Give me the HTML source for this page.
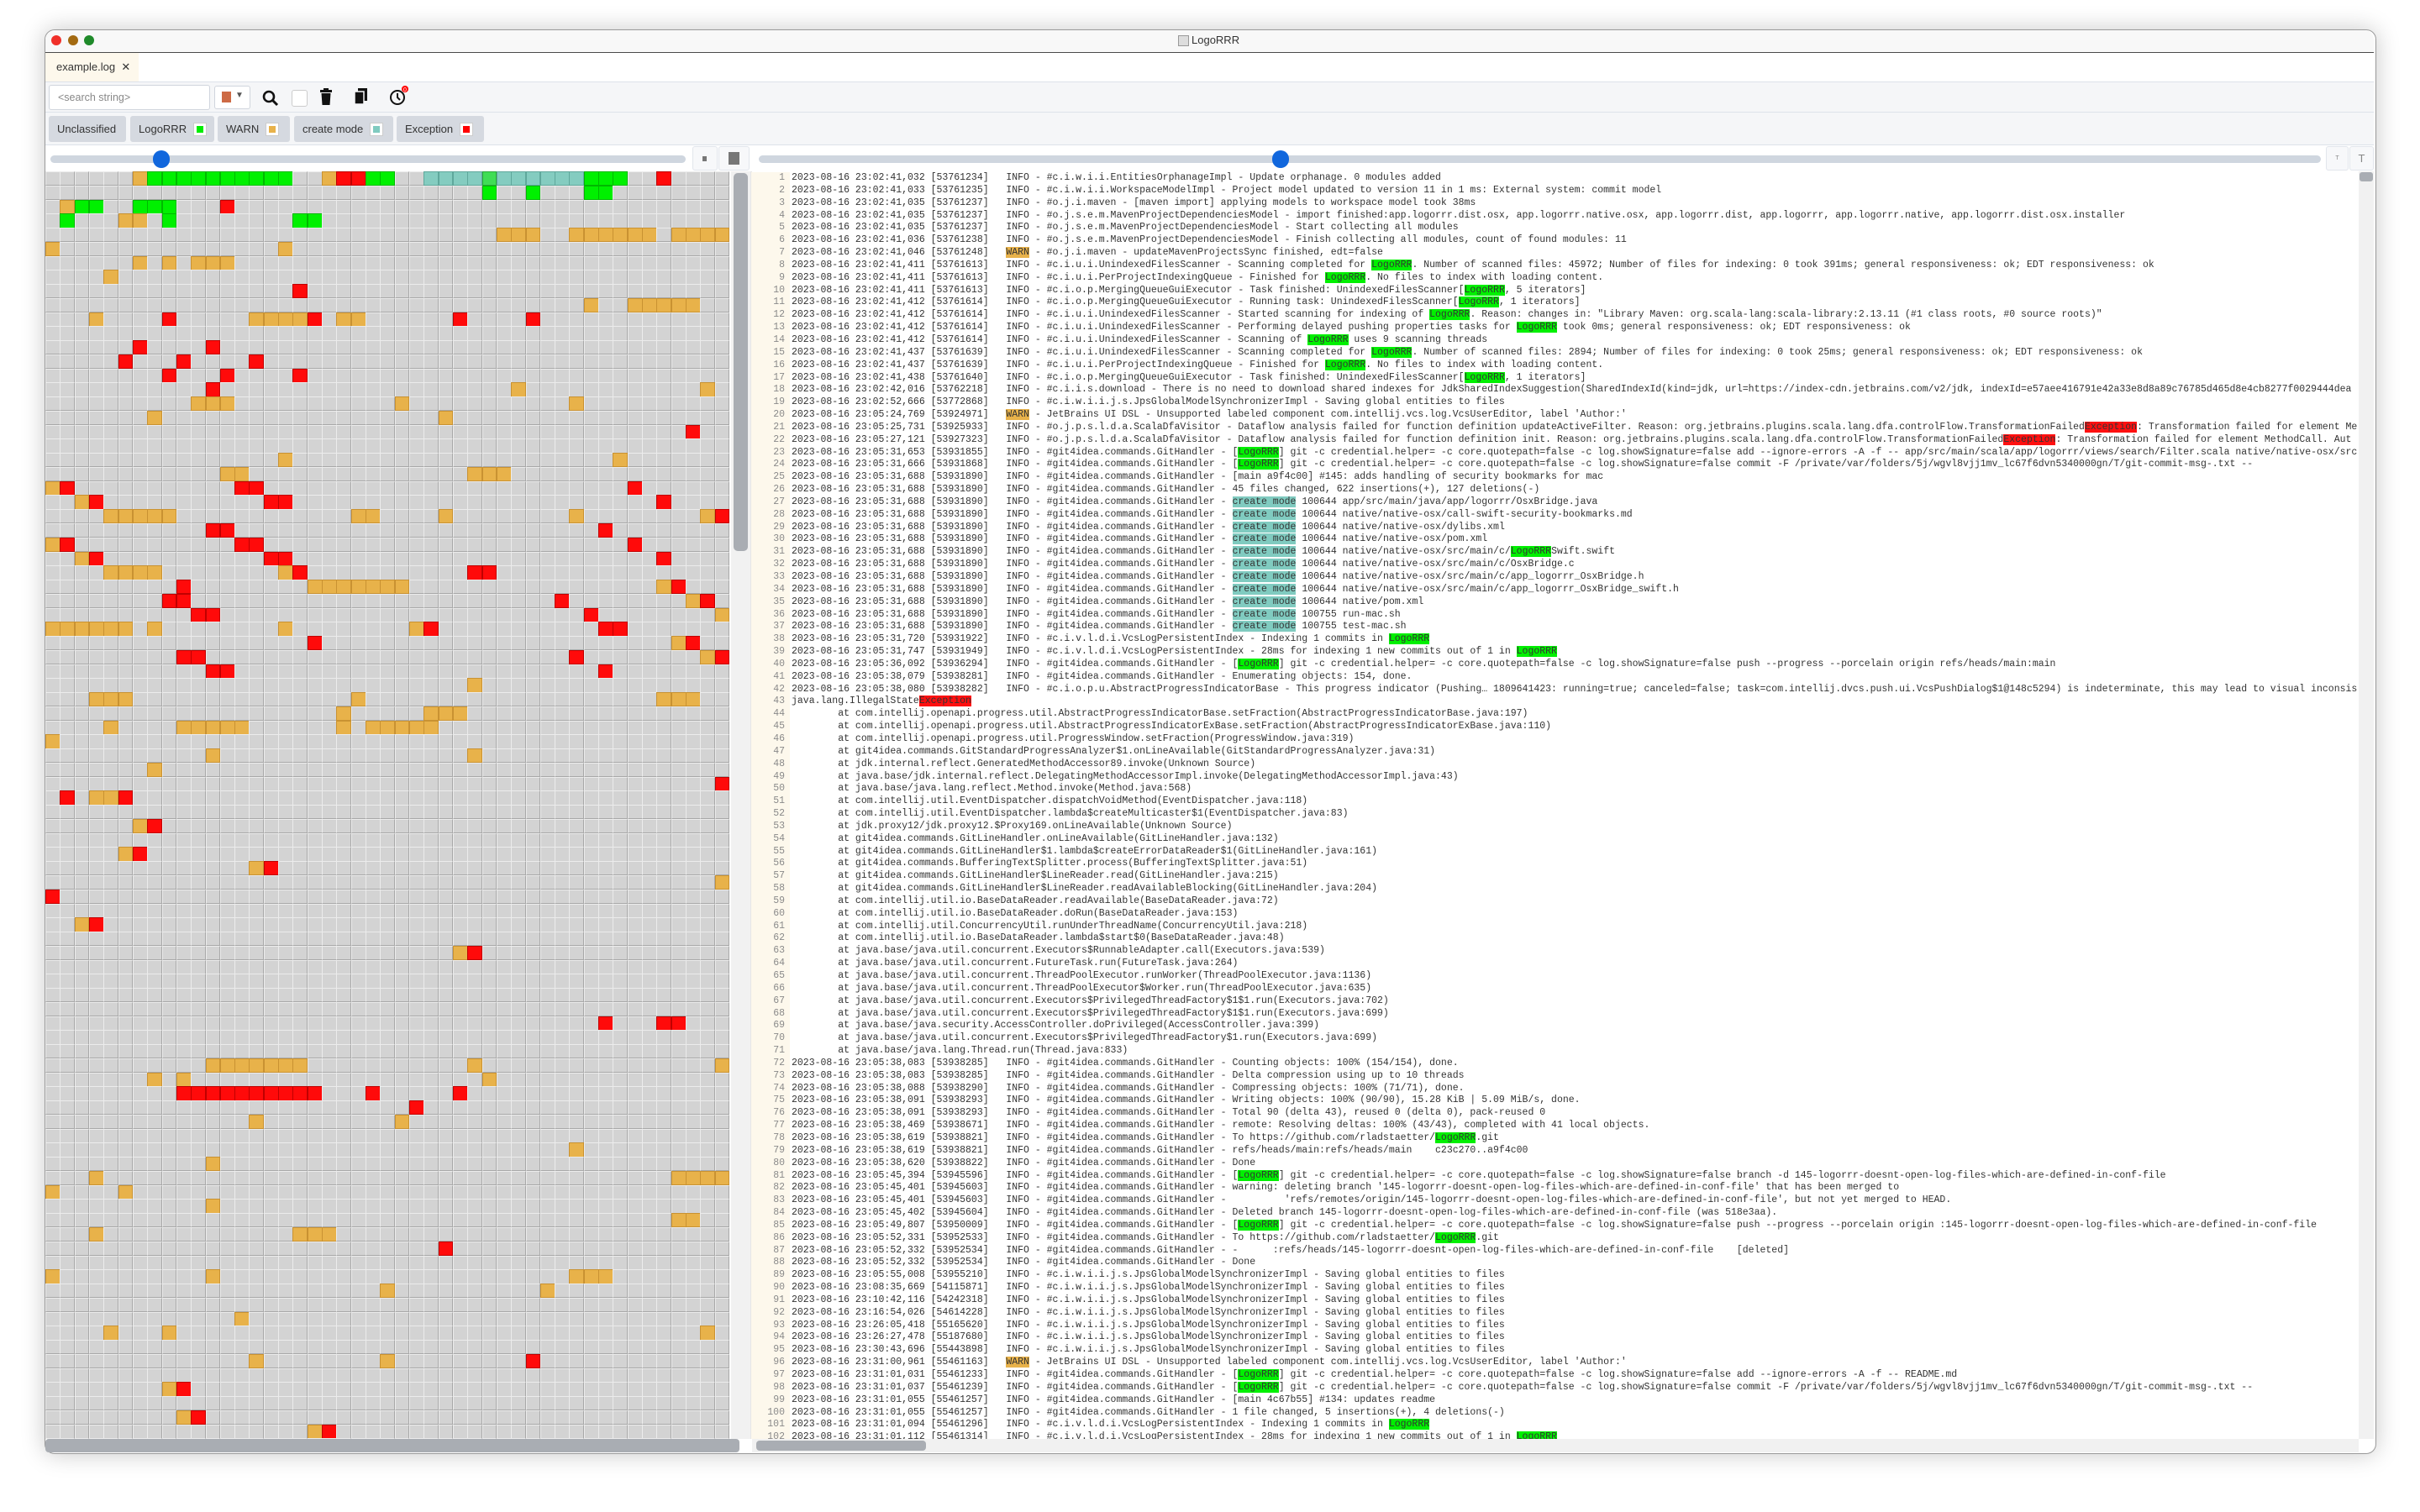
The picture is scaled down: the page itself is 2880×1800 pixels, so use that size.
<!DOCTYPE html>
<html><head><meta charset="utf-8">
<style>
html,body{margin:0;padding:0;width:2880px;height:1800px;background:#fff;overflow:hidden;font-family:"Liberation Sans",sans-serif;}
.a{position:absolute;}
#win{left:53px;top:35px;width:2773px;height:1694px;border-radius:12px;background:#fff;box-shadow:0 0 28px rgba(0,0,0,.22);border:1px solid #9a9a9a;overflow:hidden;}
.btn{position:absolute;top:138px;height:31px;background:#d5d9e0;border-radius:3px;font-size:13px;color:#333;line-height:31px;padding-left:10px;box-sizing:border-box;}
.sq{display:inline-block;width:14px;height:14px;background:#fff;border:1px solid #ccc;vertical-align:middle;margin-left:8px;position:relative;top:-1px;}
.sq i{position:absolute;left:3px;top:3px;width:8px;height:8px;}
#grid{left:54px;top:204px;width:814px;height:1509px;overflow:hidden;}
#grid div{position:absolute;box-sizing:border-box;border-top:1px solid #ececec;border-left:1px solid #ececec;border-right:1px solid #a8a8a8;border-bottom:1px solid #a8a8a8;background:#d3d3d3;}
pre{margin:0;font-family:"Liberation Mono",monospace;font-size:11.5px;line-height:14.85px;}
#txt{left:942px;top:205px;width:1864px;height:1508px;overflow:hidden;color:#333;white-space:pre;}
#ln{left:894px;top:205px;width:40px;height:1508px;overflow:hidden;color:#8a8a8a;text-align:right;padding-right:6px;background:#fdf8ec;}
.g{background:#00f000;}.w{background:#e8b24a;}.c{background:#80cbc0;}.r{background:#ff1010;}
</style></head><body>
<div id="win" class="a"></div>
<!-- title bar -->
<div class="a" style="left:54px;top:36px;width:2771px;height:26px;background:#f8f8f8;border-bottom:1px solid #4a4a4a;border-radius:11px 11px 0 0;"></div>
<div class="a" style="left:61px;top:42px;width:12px;height:12px;border-radius:6px;background:#f0302a;"></div>
<div class="a" style="left:81px;top:42px;width:12px;height:12px;border-radius:6px;background:#a36a12;"></div>
<div class="a" style="left:100px;top:42px;width:12px;height:12px;border-radius:6px;background:#1f8a2a;"></div>
<div class="a" style="left:1402px;top:42px;width:11px;height:11px;background:#ddd;border:1px solid #999;"></div>
<div class="a" style="left:1418px;top:40px;font-size:13px;color:#333;">LogoRRR</div>
<!-- tab bar -->
<div class="a" style="left:54px;top:63px;width:2771px;height:34px;background:#fff;border-bottom:1px solid #dde2ea;"></div>
<div class="a" style="left:54px;top:63px;width:111px;height:34px;background:#fdf8ec;"></div>
<div class="a" style="left:67px;top:72px;font-size:13px;color:#333;">example.log&nbsp;&nbsp;✕</div>
<!-- toolbar -->
<div class="a" style="left:54px;top:98px;width:2771px;height:74px;background:#f5f6f8;border-bottom:1px solid #dde2ea;"></div>
<div class="a" style="left:54px;top:133px;width:2771px;height:1px;background:#dde2ea;"></div>
<div class="a" style="left:58px;top:101px;width:192px;height:30px;background:#fff;border:1px solid #d0d5dd;border-radius:3px;box-sizing:border-box;font-size:12.5px;color:#888;line-height:28px;padding-left:10px;">&lt;search string&gt;</div>
<div class="a" style="left:255px;top:102px;width:43px;height:28px;background:#fff;border:1px solid #d0d5dd;border-radius:3px;box-sizing:border-box;"></div>
<div class="a" style="left:264px;top:109px;width:11px;height:13px;background:#cd6a45;"></div>
<div class="a" style="left:280px;top:108px;font-size:10px;color:#555;">▼</div>
<svg class="a" style="left:311px;top:106px" width="22" height="22"><circle cx="9" cy="9" r="6" fill="none" stroke="#111" stroke-width="2.6"/><line x1="13" y1="13" x2="19" y2="19" stroke="#111" stroke-width="3"/></svg>
<div class="a" style="left:347px;top:107px;width:17px;height:18px;background:#fff;border:1px solid #ccc;border-radius:3px;"></div>
<svg class="a" style="left:380px;top:105px" width="16" height="22"><rect x="1" y="2" width="14" height="3" fill="#111"/><rect x="5" y="0" width="6" height="3" fill="#111"/><path d="M2.5 6 H13.5 L12.5 20 H3.5 Z" fill="#111"/></svg>
<svg class="a" style="left:421px;top:104px" width="18" height="22"><rect x="5" y="1" width="11" height="15" fill="#111"/><rect x="1" y="5" width="11" height="15" fill="#111" stroke="#f5f6f8" stroke-width="1.5"/></svg>
<svg class="a" style="left:462px;top:101px" width="26" height="28"><circle cx="11" cy="15" r="8" fill="none" stroke="#111" stroke-width="2"/><path d="M11 10 V15 L14 18" stroke="#111" stroke-width="2" fill="none"/><circle cx="20" cy="5" r="4" fill="#f00"/><text x="18" y="8" font-size="7" fill="#fff" font-family="Liberation Sans">0</text></svg>
<!-- filters -->
<div class="btn" style="left:58px;width:92px;">Unclassified</div>
<div class="btn" style="left:155px;width:100px;">LogoRRR<span class="sq"><i style="background:#00ee00"></i></span></div>
<div class="btn" style="left:259px;width:86px;">WARN<span class="sq"><i style="background:#e8b24a"></i></span></div>
<div class="btn" style="left:350px;width:118px;">create mode<span class="sq"><i style="background:#80cbc0"></i></span></div>
<div class="btn" style="left:472px;width:104px;">Exception<span class="sq"><i style="background:#f00"></i></span></div>
<!-- slider rows -->
<div class="a" style="left:60px;top:185px;width:756px;height:9px;border-radius:5px;background:#cfd6df;"></div>
<div class="a" style="left:182px;top:179px;width:20px;height:21px;border-radius:10px;background:#1167dd;"></div>
<div class="a" style="left:824px;top:174px;width:30px;height:29px;border:1px solid #e2e6ec;border-radius:3px;box-sizing:border-box;background:#f7f8fa;"></div>
<div class="a" style="left:836px;top:186px;width:5px;height:6px;background:#777;"></div>
<div class="a" style="left:855px;top:174px;width:37px;height:29px;border:1px solid #e2e6ec;border-radius:3px;box-sizing:border-box;background:#f7f8fa;"></div>
<div class="a" style="left:867px;top:181px;width:13px;height:15px;background:#777;"></div>
<div class="a" style="left:903px;top:185px;width:1859px;height:9px;border-radius:5px;background:#cfd6df;"></div>
<div class="a" style="left:1514px;top:179px;width:20px;height:21px;border-radius:10px;background:#1167dd;"></div>
<div class="a" style="left:2768px;top:174px;width:27px;height:29px;border:1px solid #e2e6ec;border-radius:3px;box-sizing:border-box;background:#f7f8fa;font-size:7px;color:#888;text-align:center;line-height:27px;">T</div>
<div class="a" style="left:2796px;top:174px;width:29px;height:29px;border:1px solid #e2e6ec;border-radius:3px;box-sizing:border-box;background:#f7f8fa;font-size:13px;color:#888;text-align:center;line-height:27px;">T</div>
<!-- grid -->
<div id="grid" class="a"></div>
<div class="a" style="left:870px;top:204px;width:23px;height:1509px;background:#f1f1f1;"></div>
<div class="a" style="left:873px;top:206px;width:17px;height:450px;border-radius:5px;background:#a9adb3;"></div>
<div class="a" style="left:893px;top:204px;width:2px;height:1509px;background:#e6e6e6;"></div>
<div class="a" style="left:54px;top:1713px;width:826px;height:16px;border-radius:4px;background:#a9adb3;"></div>
<div class="a" style="left:895px;top:1713px;width:1912px;height:16px;background:#f1f1f1;"></div>
<div class="a" style="left:900px;top:1715px;width:202px;height:12px;border-radius:4px;background:#a9adb3;"></div>
<div class="a" style="left:2807px;top:204px;width:18px;height:1509px;background:#f1f1f1;"></div>
<div class="a" style="left:2808px;top:205px;width:16px;height:11px;border-radius:3px;background:#a9adb3;"></div>
<!-- log -->
<pre id="ln" class="a">1
2
3
4
5
6
7
8
9
10
11
12
13
14
15
16
17
18
19
20
21
22
23
24
25
26
27
28
29
30
31
32
33
34
35
36
37
38
39
40
41
42
43
44
45
46
47
48
49
50
51
52
53
54
55
56
57
58
59
60
61
62
63
64
65
66
67
68
69
70
71
72
73
74
75
76
77
78
79
80
81
82
83
84
85
86
87
88
89
90
91
92
93
94
95
96
97
98
99
100
101
102</pre>
<pre id="txt" class="a">2023-08-16 23:02:41,032 [53761234]   INFO - #c.i.w.i.i.EntitiesOrphanageImpl - Update orphanage. 0 modules added
2023-08-16 23:02:41,033 [53761235]   INFO - #c.i.w.i.i.WorkspaceModelImpl - Project model updated to version 11 in 1 ms: External system: commit model
2023-08-16 23:02:41,035 [53761237]   INFO - #o.j.i.maven - [maven import] applying models to workspace model took 38ms
2023-08-16 23:02:41,035 [53761237]   INFO - #o.j.s.e.m.MavenProjectDependenciesModel - import finished:app.logorrr.dist.osx, app.logorrr.native.osx, app.logorrr.dist, app.logorrr, app.logorrr.native, app.logorrr.dist.osx.installer
2023-08-16 23:02:41,035 [53761237]   INFO - #o.j.s.e.m.MavenProjectDependenciesModel - Start collecting all modules
2023-08-16 23:02:41,036 [53761238]   INFO - #o.j.s.e.m.MavenProjectDependenciesModel - Finish collecting all modules, count of found modules: 11
2023-08-16 23:02:41,046 [53761248]   <span class="w">WARN</span> - #o.j.i.maven - updateMavenProjectsSync finished, edt=false
2023-08-16 23:02:41,411 [53761613]   INFO - #c.i.u.i.UnindexedFilesScanner - Scanning completed for <span class="g">LogoRRR</span>. Number of scanned files: 45972; Number of files for indexing: 0 took 391ms; general responsiveness: ok; EDT responsiveness: ok
2023-08-16 23:02:41,411 [53761613]   INFO - #c.i.u.i.PerProjectIndexingQueue - Finished for <span class="g">LogoRRR</span>. No files to index with loading content.
2023-08-16 23:02:41,411 [53761613]   INFO - #c.i.o.p.MergingQueueGuiExecutor - Task finished: UnindexedFilesScanner[<span class="g">LogoRRR</span>, 5 iterators]
2023-08-16 23:02:41,412 [53761614]   INFO - #c.i.o.p.MergingQueueGuiExecutor - Running task: UnindexedFilesScanner[<span class="g">LogoRRR</span>, 1 iterators]
2023-08-16 23:02:41,412 [53761614]   INFO - #c.i.u.i.UnindexedFilesScanner - Started scanning for indexing of <span class="g">LogoRRR</span>. Reason: changes in: "Library Maven: org.scala-lang:scala-library:2.13.11 (#1 class roots, #0 source roots)"
2023-08-16 23:02:41,412 [53761614]   INFO - #c.i.u.i.UnindexedFilesScanner - Performing delayed pushing properties tasks for <span class="g">LogoRRR</span> took 0ms; general responsiveness: ok; EDT responsiveness: ok
2023-08-16 23:02:41,412 [53761614]   INFO - #c.i.u.i.UnindexedFilesScanner - Scanning of <span class="g">LogoRRR</span> uses 9 scanning threads
2023-08-16 23:02:41,437 [53761639]   INFO - #c.i.u.i.UnindexedFilesScanner - Scanning completed for <span class="g">LogoRRR</span>. Number of scanned files: 2894; Number of files for indexing: 0 took 25ms; general responsiveness: ok; EDT responsiveness: ok
2023-08-16 23:02:41,437 [53761639]   INFO - #c.i.u.i.PerProjectIndexingQueue - Finished for <span class="g">LogoRRR</span>. No files to index with loading content.
2023-08-16 23:02:41,438 [53761640]   INFO - #c.i.o.p.MergingQueueGuiExecutor - Task finished: UnindexedFilesScanner[<span class="g">LogoRRR</span>, 1 iterators]
2023-08-16 23:02:42,016 [53762218]   INFO - #c.i.i.s.download - There is no need to download shared indexes for JdkSharedIndexSuggestion(SharedIndexId(kind=jdk, url=https://index-cdn.jetbrains.com/v2/jdk, indexId=e57aee416791e42a33e8d8a89c76785d465d8e4cb8277f0029444dea
2023-08-16 23:02:52,666 [53772868]   INFO - #c.i.w.i.i.j.s.JpsGlobalModelSynchronizerImpl - Saving global entities to files
2023-08-16 23:05:24,769 [53924971]   <span class="w">WARN</span> - JetBrains UI DSL - Unsupported labeled component com.intellij.vcs.log.VcsUserEditor, label 'Author:'
2023-08-16 23:05:25,731 [53925933]   INFO - #o.j.p.s.l.d.a.ScalaDfaVisitor - Dataflow analysis failed for function definition updateActiveFilter. Reason: org.jetbrains.plugins.scala.lang.dfa.controlFlow.TransformationFailed<span class="r">Exception</span>: Transformation failed for element MethodCall
2023-08-16 23:05:27,121 [53927323]   INFO - #o.j.p.s.l.d.a.ScalaDfaVisitor - Dataflow analysis failed for function definition init. Reason: org.jetbrains.plugins.scala.lang.dfa.controlFlow.TransformationFailed<span class="r">Exception</span>: Transformation failed for element MethodCall. Aut
2023-08-16 23:05:31,653 [53931855]   INFO - #git4idea.commands.GitHandler - [<span class="g">LogoRRR</span>] git -c credential.helper= -c core.quotepath=false -c log.showSignature=false add --ignore-errors -A -f -- app/src/main/scala/app/logorrr/views/search/Filter.scala native/native-osx/src
2023-08-16 23:05:31,666 [53931868]   INFO - #git4idea.commands.GitHandler - [<span class="g">LogoRRR</span>] git -c credential.helper= -c core.quotepath=false -c log.showSignature=false commit -F /private/var/folders/5j/wgvl8vjj1mv_lc67f6dvn5340000gn/T/git-commit-msg-.txt --
2023-08-16 23:05:31,688 [53931890]   INFO - #git4idea.commands.GitHandler - [main a9f4c00] #145: adds handling of security bookmarks for mac
2023-08-16 23:05:31,688 [53931890]   INFO - #git4idea.commands.GitHandler - 45 files changed, 622 insertions(+), 127 deletions(-)
2023-08-16 23:05:31,688 [53931890]   INFO - #git4idea.commands.GitHandler - <span class="c">create mode</span> 100644 app/src/main/java/app/logorrr/OsxBridge.java
2023-08-16 23:05:31,688 [53931890]   INFO - #git4idea.commands.GitHandler - <span class="c">create mode</span> 100644 native/native-osx/call-swift-security-bookmarks.md
2023-08-16 23:05:31,688 [53931890]   INFO - #git4idea.commands.GitHandler - <span class="c">create mode</span> 100644 native/native-osx/dylibs.xml
2023-08-16 23:05:31,688 [53931890]   INFO - #git4idea.commands.GitHandler - <span class="c">create mode</span> 100644 native/native-osx/pom.xml
2023-08-16 23:05:31,688 [53931890]   INFO - #git4idea.commands.GitHandler - <span class="c">create mode</span> 100644 native/native-osx/src/main/c/<span class="g">LogoRRR</span>Swift.swift
2023-08-16 23:05:31,688 [53931890]   INFO - #git4idea.commands.GitHandler - <span class="c">create mode</span> 100644 native/native-osx/src/main/c/OsxBridge.c
2023-08-16 23:05:31,688 [53931890]   INFO - #git4idea.commands.GitHandler - <span class="c">create mode</span> 100644 native/native-osx/src/main/c/app_logorrr_OsxBridge.h
2023-08-16 23:05:31,688 [53931890]   INFO - #git4idea.commands.GitHandler - <span class="c">create mode</span> 100644 native/native-osx/src/main/c/app_logorrr_OsxBridge_swift.h
2023-08-16 23:05:31,688 [53931890]   INFO - #git4idea.commands.GitHandler - <span class="c">create mode</span> 100644 native/pom.xml
2023-08-16 23:05:31,688 [53931890]   INFO - #git4idea.commands.GitHandler - <span class="c">create mode</span> 100755 run-mac.sh
2023-08-16 23:05:31,688 [53931890]   INFO - #git4idea.commands.GitHandler - <span class="c">create mode</span> 100755 test-mac.sh
2023-08-16 23:05:31,720 [53931922]   INFO - #c.i.v.l.d.i.VcsLogPersistentIndex - Indexing 1 commits in <span class="g">LogoRRR</span>
2023-08-16 23:05:31,747 [53931949]   INFO - #c.i.v.l.d.i.VcsLogPersistentIndex - 28ms for indexing 1 new commits out of 1 in <span class="g">LogoRRR</span>
2023-08-16 23:05:36,092 [53936294]   INFO - #git4idea.commands.GitHandler - [<span class="g">LogoRRR</span>] git -c credential.helper= -c core.quotepath=false -c log.showSignature=false push --progress --porcelain origin refs/heads/main:main
2023-08-16 23:05:38,079 [53938281]   INFO - #git4idea.commands.GitHandler - Enumerating objects: 154, done.
2023-08-16 23:05:38,080 [53938282]   INFO - #c.i.o.p.u.AbstractProgressIndicatorBase - This progress indicator (Pushing… 1809641423: running=true; canceled=false; task=com.intellij.dvcs.push.ui.VcsPushDialog$1@148c5294) is indeterminate, this may lead to visual inconsistency
java.lang.IllegalState<span class="r">Exception</span>
        at com.intellij.openapi.progress.util.AbstractProgressIndicatorBase.setFraction(AbstractProgressIndicatorBase.java:197)
        at com.intellij.openapi.progress.util.AbstractProgressIndicatorExBase.setFraction(AbstractProgressIndicatorExBase.java:110)
        at com.intellij.openapi.progress.util.ProgressWindow.setFraction(ProgressWindow.java:319)
        at git4idea.commands.GitStandardProgressAnalyzer$1.onLineAvailable(GitStandardProgressAnalyzer.java:31)
        at jdk.internal.reflect.GeneratedMethodAccessor89.invoke(Unknown Source)
        at java.base/jdk.internal.reflect.DelegatingMethodAccessorImpl.invoke(DelegatingMethodAccessorImpl.java:43)
        at java.base/java.lang.reflect.Method.invoke(Method.java:568)
        at com.intellij.util.EventDispatcher.dispatchVoidMethod(EventDispatcher.java:118)
        at com.intellij.util.EventDispatcher.lambda$createMulticaster$1(EventDispatcher.java:83)
        at jdk.proxy12/jdk.proxy12.$Proxy169.onLineAvailable(Unknown Source)
        at git4idea.commands.GitLineHandler.onLineAvailable(GitLineHandler.java:132)
        at git4idea.commands.GitLineHandler$1.lambda$createErrorDataReader$1(GitLineHandler.java:161)
        at git4idea.commands.BufferingTextSplitter.process(BufferingTextSplitter.java:51)
        at git4idea.commands.GitLineHandler$LineReader.read(GitLineHandler.java:215)
        at git4idea.commands.GitLineHandler$LineReader.readAvailableBlocking(GitLineHandler.java:204)
        at com.intellij.util.io.BaseDataReader.readAvailable(BaseDataReader.java:72)
        at com.intellij.util.io.BaseDataReader.doRun(BaseDataReader.java:153)
        at com.intellij.util.ConcurrencyUtil.runUnderThreadName(ConcurrencyUtil.java:218)
        at com.intellij.util.io.BaseDataReader.lambda$start$0(BaseDataReader.java:48)
        at java.base/java.util.concurrent.Executors$RunnableAdapter.call(Executors.java:539)
        at java.base/java.util.concurrent.FutureTask.run(FutureTask.java:264)
        at java.base/java.util.concurrent.ThreadPoolExecutor.runWorker(ThreadPoolExecutor.java:1136)
        at java.base/java.util.concurrent.ThreadPoolExecutor$Worker.run(ThreadPoolExecutor.java:635)
        at java.base/java.util.concurrent.Executors$PrivilegedThreadFactory$1$1.run(Executors.java:702)
        at java.base/java.util.concurrent.Executors$PrivilegedThreadFactory$1$1.run(Executors.java:699)
        at java.base/java.security.AccessController.doPrivileged(AccessController.java:399)
        at java.base/java.util.concurrent.Executors$PrivilegedThreadFactory$1.run(Executors.java:699)
        at java.base/java.lang.Thread.run(Thread.java:833)
2023-08-16 23:05:38,083 [53938285]   INFO - #git4idea.commands.GitHandler - Counting objects: 100% (154/154), done.
2023-08-16 23:05:38,083 [53938285]   INFO - #git4idea.commands.GitHandler - Delta compression using up to 10 threads
2023-08-16 23:05:38,088 [53938290]   INFO - #git4idea.commands.GitHandler - Compressing objects: 100% (71/71), done.
2023-08-16 23:05:38,091 [53938293]   INFO - #git4idea.commands.GitHandler - Writing objects: 100% (90/90), 15.28 KiB | 5.09 MiB/s, done.
2023-08-16 23:05:38,091 [53938293]   INFO - #git4idea.commands.GitHandler - Total 90 (delta 43), reused 0 (delta 0), pack-reused 0
2023-08-16 23:05:38,469 [53938671]   INFO - #git4idea.commands.GitHandler - remote: Resolving deltas: 100% (43/43), completed with 41 local objects.
2023-08-16 23:05:38,619 [53938821]   INFO - #git4idea.commands.GitHandler - To https://github.com/rladstaetter/<span class="g">LogoRRR</span>.git
2023-08-16 23:05:38,619 [53938821]   INFO - #git4idea.commands.GitHandler - refs/heads/main:refs/heads/main    c23c270..a9f4c00
2023-08-16 23:05:38,620 [53938822]   INFO - #git4idea.commands.GitHandler - Done
2023-08-16 23:05:45,394 [53945596]   INFO - #git4idea.commands.GitHandler - [<span class="g">LogoRRR</span>] git -c credential.helper= -c core.quotepath=false -c log.showSignature=false branch -d 145-logorrr-doesnt-open-log-files-which-are-defined-in-conf-file
2023-08-16 23:05:45,401 [53945603]   INFO - #git4idea.commands.GitHandler - warning: deleting branch '145-logorrr-doesnt-open-log-files-which-are-defined-in-conf-file' that has been merged to
2023-08-16 23:05:45,401 [53945603]   INFO - #git4idea.commands.GitHandler -          'refs/remotes/origin/145-logorrr-doesnt-open-log-files-which-are-defined-in-conf-file', but not yet merged to HEAD.
2023-08-16 23:05:45,402 [53945604]   INFO - #git4idea.commands.GitHandler - Deleted branch 145-logorrr-doesnt-open-log-files-which-are-defined-in-conf-file (was 518e3aa).
2023-08-16 23:05:49,807 [53950009]   INFO - #git4idea.commands.GitHandler - [<span class="g">LogoRRR</span>] git -c credential.helper= -c core.quotepath=false -c log.showSignature=false push --progress --porcelain origin :145-logorrr-doesnt-open-log-files-which-are-defined-in-conf-file
2023-08-16 23:05:52,331 [53952533]   INFO - #git4idea.commands.GitHandler - To https://github.com/rladstaetter/<span class="g">LogoRRR</span>.git
2023-08-16 23:05:52,332 [53952534]   INFO - #git4idea.commands.GitHandler - -      :refs/heads/145-logorrr-doesnt-open-log-files-which-are-defined-in-conf-file    [deleted]
2023-08-16 23:05:52,332 [53952534]   INFO - #git4idea.commands.GitHandler - Done
2023-08-16 23:05:55,008 [53955210]   INFO - #c.i.w.i.i.j.s.JpsGlobalModelSynchronizerImpl - Saving global entities to files
2023-08-16 23:08:35,669 [54115871]   INFO - #c.i.w.i.i.j.s.JpsGlobalModelSynchronizerImpl - Saving global entities to files
2023-08-16 23:10:42,116 [54242318]   INFO - #c.i.w.i.i.j.s.JpsGlobalModelSynchronizerImpl - Saving global entities to files
2023-08-16 23:16:54,026 [54614228]   INFO - #c.i.w.i.i.j.s.JpsGlobalModelSynchronizerImpl - Saving global entities to files
2023-08-16 23:26:05,418 [55165620]   INFO - #c.i.w.i.i.j.s.JpsGlobalModelSynchronizerImpl - Saving global entities to files
2023-08-16 23:26:27,478 [55187680]   INFO - #c.i.w.i.i.j.s.JpsGlobalModelSynchronizerImpl - Saving global entities to files
2023-08-16 23:30:43,696 [55443898]   INFO - #c.i.w.i.i.j.s.JpsGlobalModelSynchronizerImpl - Saving global entities to files
2023-08-16 23:31:00,961 [55461163]   <span class="w">WARN</span> - JetBrains UI DSL - Unsupported labeled component com.intellij.vcs.log.VcsUserEditor, label 'Author:'
2023-08-16 23:31:01,031 [55461233]   INFO - #git4idea.commands.GitHandler - [<span class="g">LogoRRR</span>] git -c credential.helper= -c core.quotepath=false -c log.showSignature=false add --ignore-errors -A -f -- README.md
2023-08-16 23:31:01,037 [55461239]   INFO - #git4idea.commands.GitHandler - [<span class="g">LogoRRR</span>] git -c credential.helper= -c core.quotepath=false -c log.showSignature=false commit -F /private/var/folders/5j/wgvl8vjj1mv_lc67f6dvn5340000gn/T/git-commit-msg-.txt --
2023-08-16 23:31:01,055 [55461257]   INFO - #git4idea.commands.GitHandler - [main 4c67b55] #134: updates readme
2023-08-16 23:31:01,055 [55461257]   INFO - #git4idea.commands.GitHandler - 1 file changed, 5 insertions(+), 4 deletions(-)
2023-08-16 23:31:01,094 [55461296]   INFO - #c.i.v.l.d.i.VcsLogPersistentIndex - Indexing 1 commits in <span class="g">LogoRRR</span>
2023-08-16 23:31:01,112 [55461314]   INFO - #c.i.v.l.d.i.VcsLogPersistentIndex - 28ms for indexing 1 new commits out of 1 in <span class="g">LogoRRR</span></pre>
<script>
(function(){
var spec=["W6 G7-16 W19 R20-21 G22-23 C26-29 L30 C31-36 G37-39 R42","G30 G33 G37-38","W1 G2-3 G6-8 R12","G1 W5-6 G8 G17-18","W31-33 W36-41 W43-46","W0 W16","W6 W8 W10-12","W4","R17","W37 W40-44",
"W3 R8 W14-17 R18 W20-21 R28 R33","","R6 R11","R5 R9 R14","R8 R12 R17","R11 W32 W45","W10-12 W24 W36","W7 W27","R44","",
"W16 W39","W12-13 W29-31","W0 R1 R13-14 R40","W2 R3 R15-16 R42","W4-8 W21-22 W27 W36 W45 R46","R11-12 R38","W0 R1 R13-14 R40","W2 R3 R15-16 R42","W4-7 W16 R17 R29-30","R9 W18-24 W42 R43",
"R8-9 R35 W44 R45","R10-11 R37 W46","W0-5 W7 W16 W25 R26 R38-39","R18 W43 R44","R9-10 R36 W45 R46","R11-12 R38","W29","W3-5 W21 W42-44","W20 W26-28","W4 W9-13 W20 W22-26",
"W0","W11 W29","W7","R46","R1 W3-4 R5","","W6 R7","","W5 R6","W14 R15",
"W46","R0","","W2 R3","","W28 R29","","","","",
"R38 R42-43","","","W11-17 W29 W46","W7 W9 W30","R9-18 R22 R28","R25","W14 W24","","W36",
"W11","W3 W43-46","W0 W5","W11","W43-44","W3 W17-19","R27","","W0 W11 W36-38","W23 W34",
"","W13","W4 W8 W45","","W14 W23 R33","","W8 R9","","W9 R10","W18 R19",""];
var col={W:["#e8b24a","#c99232"],G:["#00f000","#00b800"],R:["#ff0a0a","#c00000"],C:["#84ccc0","#5fa89c"],L:["#40dd55","#2aa83a"]};
var g=document.getElementById('grid'),h='',cw=814/47,ch=16.76;
for(var r=0;r<91;r++){var m={};var s=spec[r]||'';s.split(' ').forEach(function(t){if(!t)return;var k=t[0],p=t.slice(1).split('-');var a=+p[0],b=p.length>1?+p[1]:a;for(var c=a;c<=b;c++)m[c]=k;});
for(var c=0;c<47;c++){var st='left:'+(c*cw).toFixed(2)+'px;top:'+(r*ch).toFixed(2)+'px;width:'+(cw+0.5).toFixed(2)+'px;height:'+(ch+0.5).toFixed(2)+'px;';
if(m[c]){var q=col[m[c]];st+='background:'+q[0]+';border-color:'+q[1]+';';}
h+='<div style="'+st+'"></div>';}}
g.innerHTML=h;})();
</script>
</body></html>
